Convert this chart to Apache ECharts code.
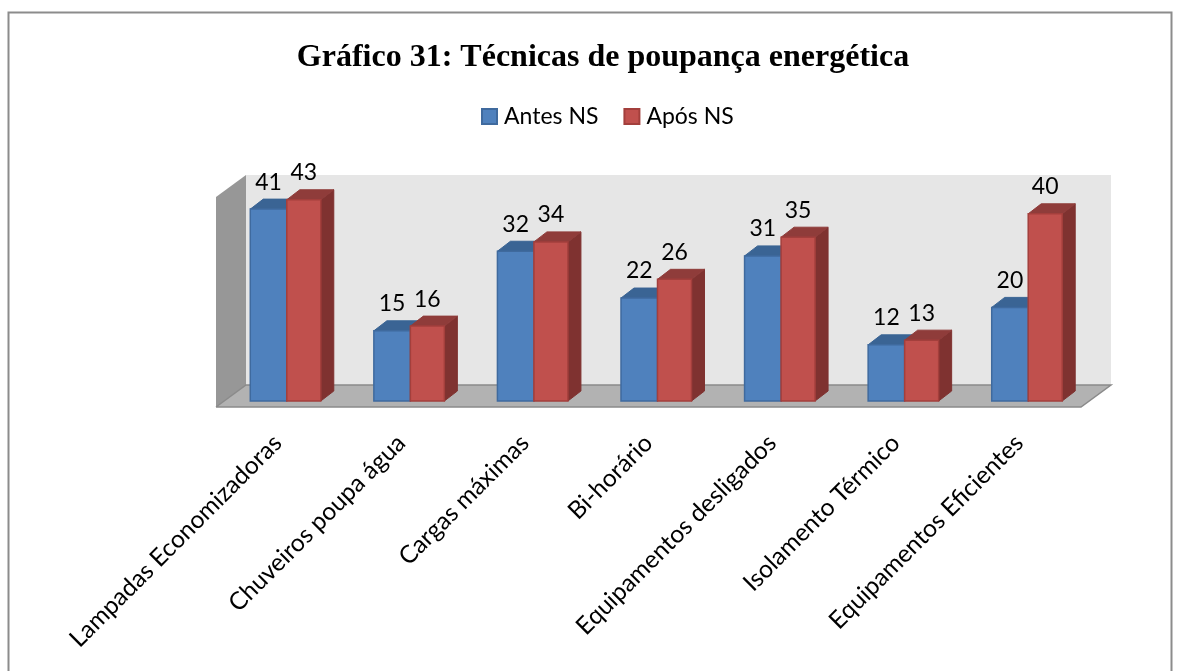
<!DOCTYPE html>
<html><head><meta charset="utf-8">
<style>html,body{margin:0;padding:0;background:#fff}#c{width:1184px;height:671px}</style>
<script src="https://cdn.jsdelivr.net/npm/echarts@6/dist/echarts.min.js"></script>
</head><body><div id="c"></div>
<script>
const chartTitle = 'Gráfico 31: Técnicas de poupança energética';
const categories = ['Lampadas Economizadoras','Chuveiros poupa água','Cargas máximas','Bi-horário','Equipamentos desligados','Isolamento Térmico','Equipamentos Eficientes'];
const antesNS = [41,15,32,22,31,12,20];
const aposNS = [43,16,34,26,35,13,40];
const seriesNames = ['Antes NS','Após NS'];

const DX = 13, DY = 10;
function barRenderer(offsetX, width, front, top, side, border) {
  return function (params, api) {
    const v = api.value(1);
    const c = api.coord([api.value(0), v]);
    const b = api.coord([api.value(0), 0]);
    const x0 = c[0] + offsetX, x1 = x0 + width, yt = c[1], yb = b[1];
    const poly = (pts, fill, stroke) => ({type:'polygon', shape:{points:pts}, style:{fill, stroke, lineWidth:1}});
    return {type:'group', children:[
      poly([[x1,yb],[x1+DX,yb-DY],[x1+DX,yt-DY],[x1,yt]], side, side),
      poly([[x0,yt],[x0+DX,yt-DY],[x1+DX,yt-DY],[x1,yt]], top, top),
      {type:'rect', shape:{x:x0,y:yt,width:width,height:yb-yt}, style:{fill:front, stroke:border, lineWidth:1.5}},
      {type:'text', x:(x0+x1)/2, y:yt-27, style:{text:String(v), fill:'#000', font:'23px Lato', align:'center', verticalAlign:'middle'}}
    ]};
  };
}
function wallsRenderer(params) {
  const g = params.coordSys, L = g.x, R = g.x + g.width, B = g.y + g.height;
  const bx = 30, by = 22, fb = B + 6, ft = fb - 210;
  const poly = (pts, fill) => ({type:'polygon', shape:{points:pts}, style:{fill}});
  return {type:'group', children:[
    poly([[L+bx,ft-by],[R+bx,ft-by],[R+bx,fb-by],[L+bx,fb-by]], '#e6e6e6'),
    poly([[L,ft],[L+bx,ft-by],[L+bx,fb-by],[L,fb]], '#979797'),
    poly([[L,fb],[L+bx,fb-by],[R+bx,fb-by],[R,fb]], '#b2b2b2'),
    {type:'polyline', shape:{points:[[L,fb],[R,fb],[R+bx,fb-by],[L+bx,fb-by],[L,fb]]}, style:{fill:null, stroke:'#8a8a8a', lineWidth:1.5}}
  ]};
}
const chart = echarts.init(document.getElementById('c'), null, {renderer:'canvas'});
chart.setOption({
  animation:false,
  backgroundColor:'#fff',
  graphic:[{type:'rect', shape:{x:8.5,y:12.5,width:1163,height:680}, style:{fill:null, stroke:'#8c8c8c', lineWidth:2}, z:100, silent:true}],
  title:{text:chartTitle, left:598, top:37, textAlign:'center', textStyle:{fontFamily:'Liberation Serif', fontWeight:'bold', fontSize:32, color:'#000'}},
  legend:{data:seriesNames, left:476, top:100, itemWidth:15, itemHeight:15, itemGap:25, icon:'rect', textStyle:{fontFamily:'Lato', fontSize:23, color:'#000', padding:[0,0,0,2]}},
  grid:{left:216, top:190.4, width:865, height:210.6},
  xAxis:{type:'category', data:categories, axisLine:{show:false}, axisTick:{show:false},
    axisLabel:{interval:0, rotate:45, margin:38, fontFamily:'Lato', fontSize:24.5, color:'#000'}},
  yAxis:{type:'value', min:0, max:45, show:false, splitLine:{show:false}},
  series:[
    {type:'custom', name:'walls', renderItem:wallsRenderer, data:[[0,0]], z:1, silent:true},
    {type:'custom', name:seriesNames[0], renderItem:barRenderer(-27.5,36.5,'#4f81bd','#3a6494','#375d8a','#3f6a9e'), data:antesNS.map((v,i)=>[i,v]), itemStyle:{color:'#4f81bd', borderColor:'#3f6a9e', borderWidth:1}, z:2, encode:{x:0,y:1}},
    {type:'custom', name:seriesNames[1], renderItem:barRenderer(9,34,'#c0504d','#8f3c3a','#7f3230','#a33f3c'), data:aposNS.map((v,i)=>[i,v]), itemStyle:{color:'#c0504d', borderColor:'#a33f3c', borderWidth:1}, z:3, encode:{x:0,y:1}}
  ]
});
</script></body></html>
